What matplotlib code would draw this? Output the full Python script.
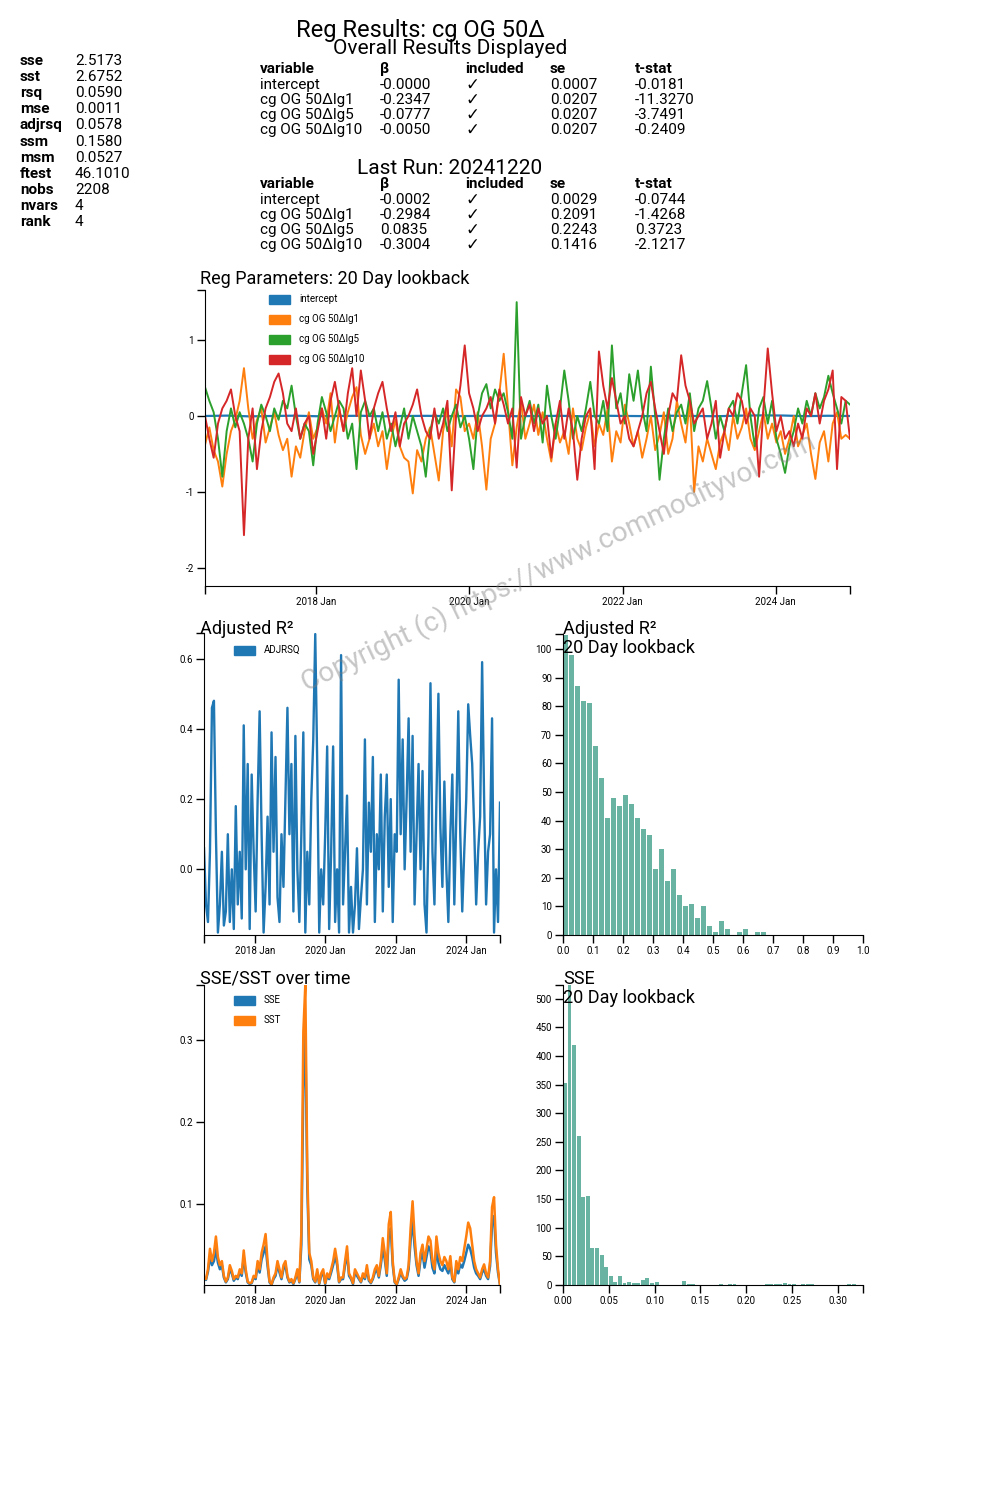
import numpy as np
import pandas as pd
import matplotlib
matplotlib.use("Agg")
import matplotlib.pyplot as plt
from matplotlib.patches import Rectangle

plt.rcParams['font.family'] = ['Roboto', 'DejaVu Sans']

W, H = 1000, 1500
def fx(x): return x / W
def fy(y): return 1 - y / H

# ---- summary stats / tables ----
stat_names = ['sse', 'sst', 'rsq', 'mse', 'adjrsq', 'ssm', 'msm', 'ftest', 'nobs', 'nvars', 'rank']
stat_values = ['2.5173', '2.6752', '0.0590', '0.0011', '0.0578', '0.1580', '0.0527', '46.1010', '2208', '4', '4']

table_cols = ['variable', 'β', 'included', 'se', 't-stat']
variables = ['intercept', 'cg OG 50Δlg1', 'cg OG 50Δlg5', 'cg OG 50Δlg10']
overall_beta = ['-0.0000', '-0.2347', '-0.0777', '-0.0050']
overall_se = ['0.0007', '0.0207', '0.0207', '0.0207']
overall_t = ['-0.0181', '-11.3270', '-3.7491', '-0.2409']
last_beta = ['-0.0002', '-0.2984', '0.0835', '-0.3004']
last_se = ['0.0029', '0.2091', '0.2243', '0.1416']
last_t = ['-0.0744', '-1.4268', '0.3723', '-2.1217']

# ---- rolling regression parameters (20 day lookback) ----
intercept = [0.0, 0.005, -0.005, 0.0, 0.004, -0.003, 0.0, 0.003, -0.004, 0.0,
             0.002, -0.002, 0.0, 0.004, -0.003, 0.0, 0.002, -0.004, 0.003, 0.0,
             -0.002, 0.003, 0.0, -0.003, 0.004, 0.008, 0.006, -0.002, 0.003, 0.0]

lg1 = [-0.38, -0.15, -0.45, -0.6, -0.93, -0.5, -0.2, -0.05, 0.2, 0.63,
       0.1, -0.3, -0.05, 0.1, -0.35, -0.15, 0.05, -0.25, -0.45, -0.3,
       -0.8, -0.4, -0.55, -0.2, 0.05, -0.3, -0.15, 0.1, -0.1, 0.3,
       -0.35, 0.1, -0.2, 0.05, 0.25, 0.38, -0.25, -0.5, -0.3, -0.1,
       -0.4, -0.2, -0.7, -0.3, -0.05, -0.4, -0.55, -0.6, -1.02, -0.45,
       -0.6, -0.3, -0.15, -0.5, -0.85, -0.2, 0.1, -0.4, 0.35, 0.25,
       -0.2, -0.1, -0.3, 0.05, -0.4, -0.97, -0.3, -0.1, 0.3, 0.82,
       0.1, -0.65, -0.15, 0.2, -0.3, -0.1, 0.15, -0.25, 0.05, -0.3,
       -0.6, -0.1, -0.35, -0.2, -0.5, 0.1, -0.3, -0.45, -0.15, 0.05,
       -0.4, -0.1, -0.25, 0.1, -0.6, -0.2, -0.35, 0.15, -0.1, -0.4,
       -0.2, -0.55, -0.3, 0.0, -0.45, -0.25, 0.05, -0.5, -0.3, 0.2,
       -0.1, -0.35, 0.2, -1.0, -0.4, -0.6, -0.3, -0.5, -0.7, -0.35,
       -0.2, -0.45, 0.0, -0.3, -0.15, 0.1, -0.3, -0.45, -0.2, 0.05,
       -0.3, -0.1, -0.35, -0.2, -0.5, -0.3, 0.0, -0.4, -0.25, -0.1,
       -0.5, -0.83, -0.35, -0.2, -0.6, -0.1, 0.05, -0.3, -0.25, -0.3]

lg5 = [0.38, 0.2, 0.05, -0.3, -0.8, -0.2, 0.1, -0.15, 0.05, -0.1,
       -0.3, -0.6, -0.1, 0.15, 0.0, -0.2, 0.1, -0.05, 0.2, 0.1,
       0.4, 0.0, -0.3, -0.1, -0.2, -0.65, -0.1, 0.25, 0.05, -0.2,
       0.0, 0.2, 0.1, -0.3, -0.1, -0.7, 0.05, 0.2, 0.0, 0.1,
       -0.2, 0.05, -0.3, -0.1, -0.4, -0.15, 0.1, -0.3, 0.0, -0.2,
       -0.4, -0.8, -0.2, 0.05, -0.1, 0.1, -0.2, 0.0, 0.15, -0.15,
       0.0, -0.3, -0.7, 0.0, 0.3, 0.42, 0.1, 0.35, 0.2, 0.3,
       0.05, -0.3, 1.5, -0.3, 0.0, 0.2, -0.1, 0.15, -0.35, 0.4,
       0.0, -0.3, 0.1, 0.6, 0.2, -0.3, 0.0, -0.2, 0.1, 0.45,
       0.0, -0.1, 0.2, -0.2, 0.93, 0.1, 0.3, -0.1, 0.55, 0.2,
       0.6, 0.1, -0.2, 0.65, 0.0, -0.84, -0.3, 0.1, -0.2, 0.05,
       0.15, -0.1, 0.3, -0.2, 0.1, 0.2, 0.46, 0.1, -0.3, 0.0,
       -0.2, 0.1, 0.2, -0.1, 0.3, 0.67, 0.0, -0.4, 0.1, 0.25,
       -0.1, 0.2, -0.3, -0.5, -0.75, -0.4, -0.2, 0.1, -0.1, 0.2,
       0.0, 0.3, 0.1, 0.25, 0.53, 0.3, 0.1, -0.1, 0.2, 0.15]

lg10 = [0.0, -0.3, -0.55, -0.1, 0.1, 0.2, 0.35, 0.0, -0.2, -1.57,
        -0.3, 0.1, -0.7, -0.2, 0.1, 0.25, 0.45, 0.56, 0.3, -0.1,
        -0.2, 0.1, -0.3, -0.1, 0.0, -0.5, -0.2, 0.1, -0.3, 0.2,
        0.45, 0.1, -0.2, 0.3, 0.63, 0.0, 0.6, 0.2, -0.3, 0.1,
        0.3, 0.45, 0.1, -0.2, 0.05, -0.4, -0.1, 0.0, 0.15, 0.35,
        0.0, -0.2, -0.3, 0.1, -0.3, -0.1, 0.2, -0.98, 0.0, 0.4,
        0.93, 0.3, 0.1, -0.2, 0.0, 0.1, 0.25, -0.1, 0.35, 0.15,
        -0.1, 0.1, -0.68, 0.25, 0.0, 0.15, -0.2, 0.1, -0.1, 0.0,
        -0.55, -0.1, 0.2, -0.3, 0.1, -0.2, -0.84, -0.3, 0.0, 0.1,
        -0.7, 0.85, 0.4, 0.1, 0.5, 0.2, -0.1, 0.0, -0.3, -0.4,
        -0.2, 0.0, 0.3, 0.45, 0.1, -0.2, -0.5, 0.0, 0.3, 0.2,
        0.8, 0.4, 0.2, -0.1, 0.0, 0.1, -0.3, -0.1, 0.2, -0.55,
        -0.2, 0.1, 0.0, 0.3, 0.2, -0.1, 0.1, 0.0, -0.8, 0.1,
        0.89, 0.3, -0.2, 0.0, -0.3, -0.2, -0.4, -0.1, -0.3, 0.1,
        0.0, 0.3, -0.1, 0.2, 0.35, 0.6, -0.7, 0.25, 0.2, -0.3]

adjrsq = [0.06, -0.1, -0.15, 0.05, 0.46, 0.48, 0.1, -0.18, -0.1, 0.05,
          -0.16, -0.12, 0.1, -0.15, 0.0, -0.17, 0.18, -0.1, 0.05, -0.14,
          0.41, 0.0, 0.3, -0.17, 0.27, 0.05, -0.12, 0.2, 0.45, 0.1,
          -0.18, -0.05, 0.15, -0.1, 0.39, 0.05, 0.32, -0.08, -0.15, 0.1,
          -0.05, 0.2, 0.46, 0.1, 0.3, -0.12, 0.38, 0.0, -0.15, 0.1,
          0.39, -0.18, 0.05, -0.1, 0.2, 0.37, 0.67, 0.3, -0.18, 0.0,
          -0.1, 0.1, 0.35, -0.17, 0.05, 0.35, -0.15, 0.0, -0.18, 0.61,
          -0.1, 0.05, 0.21, -0.18, -0.05, -0.18, -0.1, 0.06, -0.17, -0.08,
          0.0, 0.37, -0.1, 0.19, 0.05, 0.32, -0.15, 0.1, 0.0, 0.27,
          -0.12, 0.15, 0.27, -0.05, 0.2, -0.15, 0.1, 0.05, 0.54, 0.1,
          0.37, 0.0, 0.2, 0.43, 0.05, 0.38, -0.1, 0.1, 0.3, 0.0,
          0.28, -0.1, -0.18, 0.1, 0.53, 0.05, -0.1, 0.2, 0.5, 0.12,
          -0.05, 0.25, 0.0, -0.15, 0.1, 0.27, -0.1, 0.15, 0.45, 0.1,
          -0.12, 0.05, 0.2, 0.47, 0.38, 0.3, 0.12, -0.1, 0.05, 0.15,
          0.59, 0.2, -0.1, 0.05, 0.1, 0.43, -0.18, 0.0, -0.15, 0.19]

sst = [0.01, 0.008, 0.02, 0.045, 0.03, 0.04, 0.06, 0.035, 0.025, 0.03,
       0.012, 0.005, 0.01, 0.025, 0.018, 0.008, 0.012, 0.01, 0.02, 0.015,
       0.043, 0.02, 0.005, 0.003, 0.004, 0.012, 0.01, 0.03, 0.02, 0.04,
       0.05, 0.063, 0.03, 0.005, 0.002, 0.01, 0.015, 0.03, 0.02, 0.01,
       0.025, 0.03, 0.012, 0.005, 0.008, 0.003, 0.01, 0.02, 0.005, 0.065,
       0.31, 0.367, 0.14, 0.04, 0.03, 0.01, 0.005, 0.02, 0.003, 0.015,
       0.02, 0.003, 0.015, 0.01, 0.02, 0.03, 0.045, 0.03, 0.005, 0.01,
       0.01, 0.03, 0.048, 0.015, 0.01, 0.003, 0.02, 0.015, 0.01, 0.005,
       0.015, 0.01, 0.025, 0.008, 0.004, 0.01, 0.02, 0.025, 0.012, 0.03,
       0.058, 0.04, 0.015, 0.075, 0.09, 0.03, 0.005, 0.002, 0.01, 0.02,
       0.012, 0.008, 0.01, 0.025, 0.07, 0.103, 0.06, 0.03, 0.015, 0.04,
       0.05, 0.03, 0.045, 0.06, 0.055, 0.03, 0.02, 0.06, 0.04, 0.03,
       0.025, 0.035, 0.03, 0.02, 0.036, 0.01, 0.005, 0.03, 0.02, 0.035,
       0.03, 0.045, 0.06, 0.077, 0.07, 0.05, 0.03, 0.02, 0.015, 0.01,
       0.02, 0.026, 0.015, 0.01, 0.03, 0.096, 0.108, 0.05, 0.02, 0.001]

sse = [0.008, 0.007, 0.017, 0.035, 0.025, 0.03, 0.045, 0.028, 0.02, 0.025,
       0.01, 0.004, 0.008, 0.02, 0.015, 0.006, 0.01, 0.008, 0.017, 0.012,
       0.035, 0.016, 0.004, 0.002, 0.003, 0.01, 0.008, 0.025, 0.016, 0.032,
       0.04, 0.048, 0.024, 0.004, 0.001, 0.008, 0.012, 0.025, 0.016, 0.008,
       0.02, 0.025, 0.01, 0.004, 0.006, 0.002, 0.008, 0.016, 0.004, 0.05,
       0.24, 0.31, 0.12, 0.032, 0.025, 0.008, 0.004, 0.016, 0.002, 0.012,
       0.016, 0.002, 0.012, 0.008, 0.016, 0.025, 0.036, 0.025, 0.004, 0.008,
       0.008, 0.025, 0.04, 0.012, 0.008, 0.002, 0.016, 0.012, 0.008, 0.004,
       0.012, 0.008, 0.02, 0.006, 0.003, 0.008, 0.016, 0.02, 0.01, 0.025,
       0.045, 0.032, 0.012, 0.06, 0.07, 0.025, 0.004, 0.001, 0.008, 0.016,
       0.01, 0.006, 0.008, 0.02, 0.055, 0.08, 0.048, 0.025, 0.012, 0.032,
       0.04, 0.022, 0.035, 0.048, 0.042, 0.022, 0.015, 0.045, 0.028, 0.02,
       0.018, 0.025, 0.02, 0.015, 0.028, 0.008, 0.004, 0.022, 0.015, 0.026,
       0.022, 0.03, 0.04, 0.05, 0.045, 0.035, 0.022, 0.015, 0.012, 0.008,
       0.016, 0.02, 0.012, 0.008, 0.024, 0.075, 0.085, 0.04, 0.016, 0.001]

# ---- histograms ----
adj_bin = 0.02
adj_counts = [105, 98, 87, 82, 81, 66, 55, 41, 48, 45,
              49, 46, 41, 37, 35, 23, 30, 19, 23, 14,
              10, 11, 6, 10, 3, 1, 5, 2, 0, 1,
              2, 0, 1, 1]
sse_bin = 0.005
sse_counts = [352, 524, 420, 260, 154, 156, 64, 64, 53, 31,
              15, 5, 15, 4, 5, 4, 4, 9, 12, 4,
              6, 0, 0, 0, 0, 0, 7, 2, 2, 0,
              0, 0, 0, 0, 1, 0, 1, 2, 0, 0,
              0, 0, 0, 0, 2, 2, 2, 2, 3, 2,
              1, 0, 2, 2, 1, 0, 0, 0, 0, 0,
              0, 0, 2, 2]

start, end = pd.Timestamp('2016-07-20'), pd.Timestamp('2024-12-20')
dates = pd.date_range(start, end, periods=len(lg1))
dates_int = pd.date_range(start, end, periods=len(intercept))
year_ticks = [pd.Timestamp(f'{y}-01-01') for y in (2018, 2020, 2022, 2024)]
year_labels = [f'{y} Jan' for y in (2018, 2020, 2022, 2024)]

c_blue, c_orange, c_green, c_red = '#1f77b4', '#ff7f0e', '#2ca02c', '#d62728'
c_bar = '#69b3a2'

fig = plt.figure(figsize=(10, 15), dpi=100)


def new_axes(l, t, r, b):
    ax = fig.add_axes([fx(l), fy(b), (r - l) / W, (b - t) / H])
    for s in ('top', 'right'):
        ax.spines[s].set_visible(False)
    ax.tick_params(length=6, width=1, labelsize=7, pad=2, which='both')
    return ax


def outer_ticks(ax):
    x0, x1 = ax.get_xlim()
    y0, y1 = ax.get_ylim()
    ax.set_xticks([x0, x1], minor=True)
    ax.set_yticks([y1], minor=True)


def legend_item(x, y, color, label):
    fig.patches.append(Rectangle((fx(x), fy(y + 4.5)), 21 / W, 9 / H,
                                 transform=fig.transFigure, color=color))
    fig.text(fx(x + 30), fy(y), label, fontsize=7, va='center')


# ---- text block ----
for i, (n, v) in enumerate(zip(stat_names, stat_values)):
    y = 61 + i * 16.1
    fig.text(fx(20), fy(y), n, fontsize=11, fontweight='bold', va='center')
    fig.text(fx(75), fy(y), v, fontsize=11, va='center')

fig.text(fx(420), fy(30), 'Reg Results: cg OG 50Δ', fontsize=17, ha='center', va='center')
fig.text(fx(450), fy(49), 'Overall Results Displayed', fontsize=15, ha='center', va='center')
fig.text(fx(450), fy(169), 'Last Run: 20241220', fontsize=15, ha='center', va='center')

col_x = [260, 380, 465, 550, 635]


def draw_table(y0, betas, ses, ts):
    for cx, c in zip(col_x, table_cols):
        fig.text(fx(cx), fy(y0), c, fontsize=11, fontweight='bold', va='center')
    for j, var in enumerate(variables):
        y = y0 + 15 * (j + 1)
        row = [var, betas[j], None, ses[j], ts[j]]
        for cx, val in zip(col_x, row):
            if val is None:
                fig.text(fx(cx), fy(y + 1), '✓', fontsize=12, va='center',
                         family=['DejaVu Sans'])
            else:
                fig.text(fx(cx), fy(y + 1), val, fontsize=11, va='center')


draw_table(69, overall_beta, overall_se, overall_t)
draw_table(184, last_beta, last_se, last_t)

# ---- reg parameters ----
ax1 = new_axes(205, 290, 850, 586)
ax1.plot(dates_int, intercept, color=c_blue, lw=1.6)
ax1.plot(dates, lg1, color=c_orange, lw=1.4)
ax1.plot(dates, lg5, color=c_green, lw=1.4)
ax1.plot(dates, lg10, color=c_red, lw=1.4)
ax1.set_xlim(start, end)
ax1.set_ylim(-2.24, 1.66)
ax1.set_yticks([-2, -1, 0, 1])
ax1.set_yticklabels(['-2', '-1', '0', '1'])
ax1.set_xticks(year_ticks)
ax1.set_xticklabels(year_labels)
outer_ticks(ax1)
fig.text(fx(200), fy(279), 'Reg Parameters: 20 Day lookback', fontsize=13, va='center')
for k, (col, lab) in enumerate(zip([c_blue, c_orange, c_green, c_red], ['intercept'] + variables[1:])):
    legend_item(269, 299 + 20 * k, col, lab)

# ---- adjusted R2 over time ----
ax2 = new_axes(204, 633, 500, 935)
ax2.plot(dates, adjrsq, color=c_blue, lw=1.7)
ax2.set_xlim(start, end)
ax2.set_ylim(-0.187, 0.673)
ax2.set_yticks([0.0, 0.2, 0.4, 0.6])
ax2.set_yticklabels(['0.0', '0.2', '0.4', '0.6'])
ax2.set_xticks(year_ticks)
ax2.set_xticklabels(year_labels)
outer_ticks(ax2)
fig.text(fx(200), fy(629), 'Adjusted R²', fontsize=13, va='center')
legend_item(234, 650, c_blue, 'ADJRSQ')

# ---- adjusted R2 histogram ----
ax3 = new_axes(563, 634, 863, 935)
edges = np.arange(len(adj_counts)) * adj_bin
ax3.bar(edges, adj_counts, width=adj_bin * 0.88, align='edge', color=c_bar)
ax3.set_xlim(0, 1)
ax3.set_ylim(0, 105.3)
ax3.set_yticks(range(0, 101, 10))
ax3.set_xticks(np.round(np.arange(0, 1.01, 0.1), 1))
ax3.set_xticklabels([f'{v:.1f}' for v in np.arange(0, 1.01, 0.1)])
outer_ticks(ax3)
fig.text(fx(563), fy(629), 'Adjusted R²', fontsize=13, va='center')
fig.text(fx(563), fy(648), '20 Day lookback', fontsize=13, va='center')

# ---- SSE / SST over time ----
ax4 = new_axes(204, 985, 500, 1285)
ax4.plot(dates, sse, color=c_blue, lw=1.8)
ax4.plot(dates, sst, color=c_orange, lw=1.8)
ax4.set_xlim(start, end)
ax4.set_ylim(0.0008, 0.367)
ax4.set_yticks([0.1, 0.2, 0.3])
ax4.set_yticklabels(['0.1', '0.2', '0.3'])
ax4.set_xticks(year_ticks)
ax4.set_xticklabels(year_labels)
outer_ticks(ax4)
fig.text(fx(200), fy(979), 'SSE/SST over time', fontsize=13, va='center')
legend_item(234, 1000, c_blue, 'SSE')
legend_item(234, 1020, c_orange, 'SST')

# ---- SSE histogram ----
ax5 = new_axes(563, 985, 863, 1285)
edges = np.arange(len(sse_counts)) * sse_bin
ax5.bar(edges, sse_counts, width=sse_bin * 0.85, align='edge', color=c_bar)
ax5.set_xlim(0, 0.3273)
ax5.set_ylim(0, 524)
ax5.set_yticks(range(0, 501, 50))
xt = np.arange(0, 0.301, 0.05)
ax5.set_xticks(xt)
ax5.set_xticklabels([f'{v:.2f}' for v in xt])
outer_ticks(ax5)
fig.text(fx(563), fy(979), 'SSE', fontsize=13, va='center')
fig.text(fx(563), fy(998), '20 Day lookback', fontsize=13, va='center')

# watermark
fig.text(fx(558), fy(562), 'Copyright (c) https://www.commodityvol.com', fontsize=20,
         color='gray', alpha=0.45, rotation=25.5, rotation_mode='anchor',
         ha='center', va='center', zorder=10)

fig.savefig('out.png', dpi=100)
